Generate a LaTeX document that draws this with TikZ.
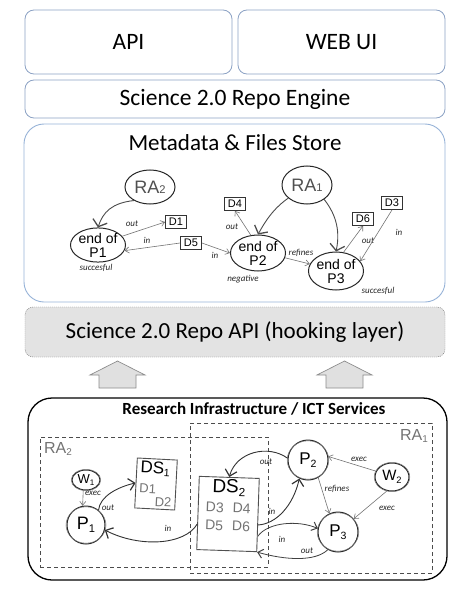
\documentclass[tikz,border=0pt]{standalone}
\usepackage{fontspec}
\usepackage{graphicx}
\setmainfont{Carlito}
\newfontfamily\hel{Liberation Sans}
\usetikzlibrary{arrows.meta,shapes.geometric}
\definecolor{boxblue}{RGB}{140,162,196}
\definecolor{storeblue}{RGB}{150,178,215}
\definecolor{inkgray}{RGB}{80,80,80}
\definecolor{lightink}{RGB}{115,115,115}
\newcommand\sbs[1]{\raisebox{-0.3ex}{\scalebox{0.62}{#1}}}
\newcommand\sbt[1]{\scalebox{0.62}{#1}}
\begin{document}
\begin{tikzpicture}[x=1pt,y=-1pt,
  topbox/.style={draw=boxblue, rounded corners=9pt, line width=0.8pt, font=\fontsize{23.5}{26}\selectfont},
  hl/.style={font=\hel\fontsize{#1}{#1}\selectfont},
  ell/.style={draw=black!85, ellipse, line width=1pt, inner sep=0pt},
  circ/.style={draw=black!85, circle, line width=1pt, inner sep=0pt},
  dbox/.style={draw=black!80, line width=0.8pt, font=\hel\fontsize{11}{12}\selectfont, inner sep=1.5pt, minimum width=21pt, minimum height=13pt},
  dsbox/.style={draw=inkgray, line width=0.9pt, inner sep=2pt},
  dashbox/.style={draw=black!70, line width=0.8pt, dash pattern=on 4pt off 3pt},
  sk/.style={draw=black!55, line width=0.5pt},
  thinA/.style={draw=lightink, line width=0.6pt, -{Straight Barb[length=4pt,width=6pt]}},
  medA/.style={draw=black!75, line width=0.8pt, -{Straight Barb[length=5pt,width=9pt,line width=1pt]}},
  boldA/.style={draw=black!80, line width=0.9pt, -{Straight Barb[length=6pt,width=12pt,line width=1.2pt]}},
  bigA/.style={draw=black!70, line width=0.9pt, -{Straight Barb[length=6pt,width=15pt,line width=1.3pt]}},
  lbl/.style={font=\itshape\fontsize{9}{10}\selectfont, text=black!85, inner sep=1pt},
  uparrow/.style={draw=black!45, fill=black!12, line width=0.7pt}
]
\useasboundingbox (0,0) rectangle (463,599);

% top layers
\node[topbox, minimum width=207pt, minimum height=64pt] (api) at (128.5,42) {API};
\node[topbox, minimum width=207pt, minimum height=64pt] (webui) at (341.5,42) {WEB UI};
\node[topbox, minimum width=420pt, minimum height=38pt, font=\fontsize{23.5}{26}\selectfont] (engine) at (235,99) {Science 2.0 Repo Engine};
\node[draw=storeblue, rounded corners=20pt, line width=0.9pt, minimum width=421pt, minimum height=178pt] (store) at (234.5,213) {};
\node[font=\fontsize{23}{26}\selectfont] (storetitle) at (235,143) {Metadata \& Files Store};

% store contents
\node[ell, minimum width=50pt, minimum height=34pt, hl=18, text=inkgray] (ra2) at (150,187) {RA\sbt{2}};
\node[ell, minimum width=52pt, minimum height=34pt, hl=14, align=center] (ep1) at (98,245) {end of\\P1};
\node[dbox] (d1) at (176,222) {D1};
\node[dbox] (d5) at (191,243) {D5};
\node[ell, minimum width=50pt, minimum height=38pt, hl=18, text=inkgray] (ra1) at (307,185) {RA\sbt{1}};
\node[ell, minimum width=52pt, minimum height=36pt, hl=14, align=center] (ep2) at (258,253) {end of\\P2};
\node[ell, minimum width=52pt, minimum height=38pt, hl=14, align=center] (ep3) at (336,271) {end of\\P3};
\node[dbox] (d4) at (235,204) {D4};
\node[dbox] (d6) at (363,219) {D6};
\node[dbox] (d3) at (392,203) {D3};

\draw[bigA] (ra2.220) .. controls (112,203) and (103,212) .. (ep1.north);
\draw[thinA] (ep1.20) -- (d1.west);
\node[lbl] (lo1) at (132,224) {out};
\draw[thinA] (d5.west) -- (ep1.-12);
\node[lbl] (li1) at (147,240) {in};
\draw[thinA] (d5.east) -- (ep2.west);
\node[lbl] (li2) at (215,255) {in};
\draw[thinA] (ep2.112) -- (d4.south);
\node[lbl] (lo2) at (232,227) {out};
\draw[bigA] (ra1.215) .. controls (277,206) and (268,216) .. (ep2.north);
\draw[bigA] (ra1.-40) .. controls (334,212) and (341,228) .. (ep3.north);
\draw[thinA] (ep2.-10) -- (ep3.165);
\node[lbl] (lref1) at (301,253) {refines};
\draw[thinA] (ep3.68) -- (d6.south);
\node[lbl] (lo3) at (368,241) {out};
\draw[thinA] (d3.south) -- (ep3.22);
\node[lbl] (li3) at (399,232) {in};
\node[lbl] (succ1) at (96,268) {succesful};
\node[lbl] (neg) at (243,279) {negative};
\node[lbl] (succ3) at (378,291) {succesful};

% hooking layer
\node[draw=black!55, dash pattern=on 1pt off 1pt, fill=black!11, rounded corners=8pt, minimum width=420pt, minimum height=50pt, font=\fontsize{23}{26}\selectfont] (hook) at (235,332) {Science 2.0 Repo API (hooking layer)};
\draw[uparrow] (99,388) -- (99,375) -- (90,375) -- (117.5,361) -- (145,375) -- (136,375) -- (136,388) -- cycle;
\draw[uparrow] (326,388) -- (326,375) -- (317,375) -- (344.5,361) -- (372,375) -- (363,375) -- (363,388) -- cycle;

% research infrastructure
\node[draw, line width=1.3pt, rounded corners=24pt, minimum width=419pt, minimum height=182pt] (infra) at (237.5,489) {};
\node[font=\bfseries\fontsize{17}{19}\selectfont] (infratitle) at (254,409) {Research Infrastructure / ICT Services};
\node[dashbox, minimum width=242pt, minimum height=150pt] (ra1box) at (311,498) {};
\node[dashbox, minimum width=228pt, minimum height=130pt] (ra2box) at (154,502) {};
\node[hl=16, text=lightink] (ra1lab) at (414,436) {RA\sbs{1}};
\node[hl=16, text=lightink] (ra2lab) at (58,449) {RA\sbs{2}};

\node[ell, minimum width=28pt, minimum height=20pt, hl=13] (w1) at (86,480) {W\sbs{1}};
\node[circ, minimum size=38pt, hl=18] (p1) at (86,525) {P\sbs{1}};
\node[dsbox, minimum width=40pt, minimum height=50pt, rotate=-3, align=left, hl=13, text=lightink] (ds1) at (156,484)
  {{\color{black}\fontsize{17}{17}\selectfont DS\sbs{1}}\\[7pt]D1\\\hspace*{16pt}D2};
\node[dsbox, minimum width=60pt, minimum height=68pt, rotate=-2, align=center, hl=14, text=lightink] (ds2) at (228,514)
  {{\color{black}\fontsize{19}{19}\selectfont DS\sbs{2}}\\[6pt]D3\hspace{9pt}D4\\[4pt]D5\hspace{9pt}D6\\[4pt]};
\node[circ, minimum size=40pt, hl=17] (p2) at (308,460) {P\sbs{2}};
\node[ell, minimum width=34pt, minimum height=28pt, hl=15] (w2) at (392,477) {W\sbs{2}};
\node[circ, minimum size=40pt, hl=17] (p3) at (338,532) {P\sbs{3}};

% sketch strokes
\draw[sk] (w1.center) ellipse [x radius=14.8, y radius=10.6];
\draw[sk] (p1.center) ellipse [x radius=20, y radius=18.2];
\draw[sk] (p2.center) ellipse [x radius=20.8, y radius=19.2];
\draw[sk] (w2.center) ellipse [x radius=17.8, y radius=14.6];
\draw[sk] (p3.center) ellipse [x radius=20.8, y radius=19.2];

\draw[thinA] (w1.255) -- (p1.100);
\node[lbl] (le1) at (93,493) {exec};
\draw[boldA] (p1.50) .. controls (100,496) and (118,487) .. (ds1.west);
\node[lbl] (lo4) at (108,508) {out};
\draw[boldA] (ds2.200) .. controls (185,545) and (140,548) .. (p1.-15);
\node[lbl] (li4) at (168,528) {in};
\draw[boldA] (p2.175) .. controls (268,444) and (236,452) .. (ds2.north);
\node[lbl] (lo5) at (266,462) {out};
\draw[boldA] (ds2.-18) .. controls (276,524) and (293,506) .. (p2.245);
\node[lbl] (li5) at (272,511) {in};
\draw[medA] (ds2.-35) .. controls (268,522) and (298,520) .. (p3.170);
\node[lbl] (li6) at (282,539) {in};
\draw[medA] (p3.240) .. controls (315,562) and (285,560) .. (ds2.south east);
\node[lbl] (lo6) at (307,551) {out};
\draw[thinA] (w2.160) -- (p2.10);
\node[lbl] (le2) at (359,459) {exec};
\draw[thinA] (w2.250) -- (p3.40);
\node[lbl] (le3) at (387,508) {exec};
\draw[thinA] (p2.-60) -- (p3.115);
\node[lbl] (lref2) at (337,489) {refines};
\end{tikzpicture}
\end{document}
